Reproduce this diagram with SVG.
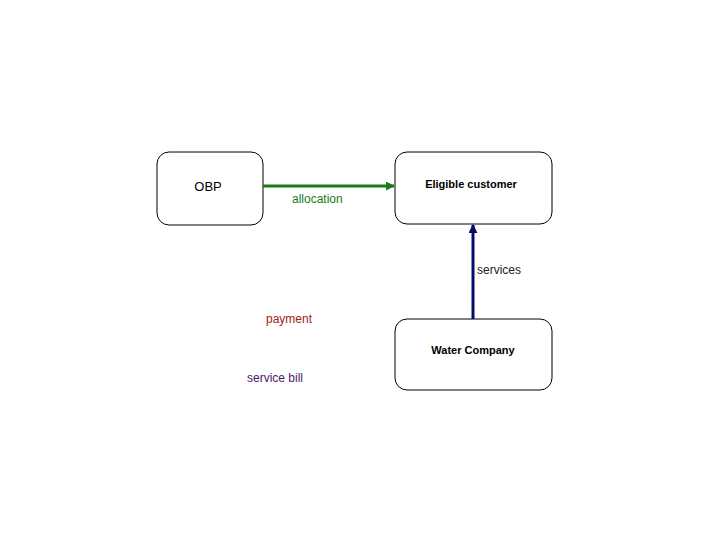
<svg xmlns="http://www.w3.org/2000/svg" width="720" height="540" viewBox="0 0 720 540">
<style>
.box{fill:#fff;stroke:#000;stroke-width:1}
.t{font-family:"Liberation Sans",Arial,sans-serif}
.b{font-weight:bold;font-size:11px}
</style>
<defs>
<marker id="ag" viewBox="0 0 10 10" refX="9" refY="5" markerWidth="3" markerHeight="3" orient="auto"><path d="M0,0 L10,5 L0,10 z" fill="#1a7a1a"/></marker>
<marker id="ab" viewBox="0 0 10 10" refX="9" refY="5" markerWidth="3" markerHeight="3" orient="auto"><path d="M0,0 L10,5 L0,10 z" fill="#0a0a6a"/></marker>
</defs>
<rect width="720" height="540" fill="#fff"/>
<g id="obp"><rect class="box" x="157" y="152" width="106" height="73" rx="12"/><text class="t" x="208" y="191" font-size="13" text-anchor="middle">OBP</text></g>
<g id="eligible"><rect class="box" x="395" y="152" width="157" height="72" rx="12"/><text class="t b" x="471" y="188" text-anchor="middle">Eligible customer</text></g>
<g id="water"><rect class="box" x="395" y="319" width="157" height="71" rx="12"/><text class="t b" x="473" y="354" text-anchor="middle">Water Company</text></g>
<g id="connectors">
<line x1="263" y1="186" x2="394" y2="186" stroke="#1a7a1a" stroke-width="3" marker-end="url(#ag)"/>
<line x1="473" y1="319" x2="473" y2="225" stroke="#0a0a6a" stroke-width="3" marker-end="url(#ab)"/>
<text class="t" x="292" y="203" font-size="12" fill="#1a7a1a">allocation</text>
<text class="t" x="477" y="274" font-size="12" fill="#222">services</text>
<text class="t" x="266" y="323" font-size="12" fill="#a02020">payment</text>
<text class="t" x="247" y="382" font-size="12" fill="#4b1a6b">service bill</text>
</g>
</svg>
